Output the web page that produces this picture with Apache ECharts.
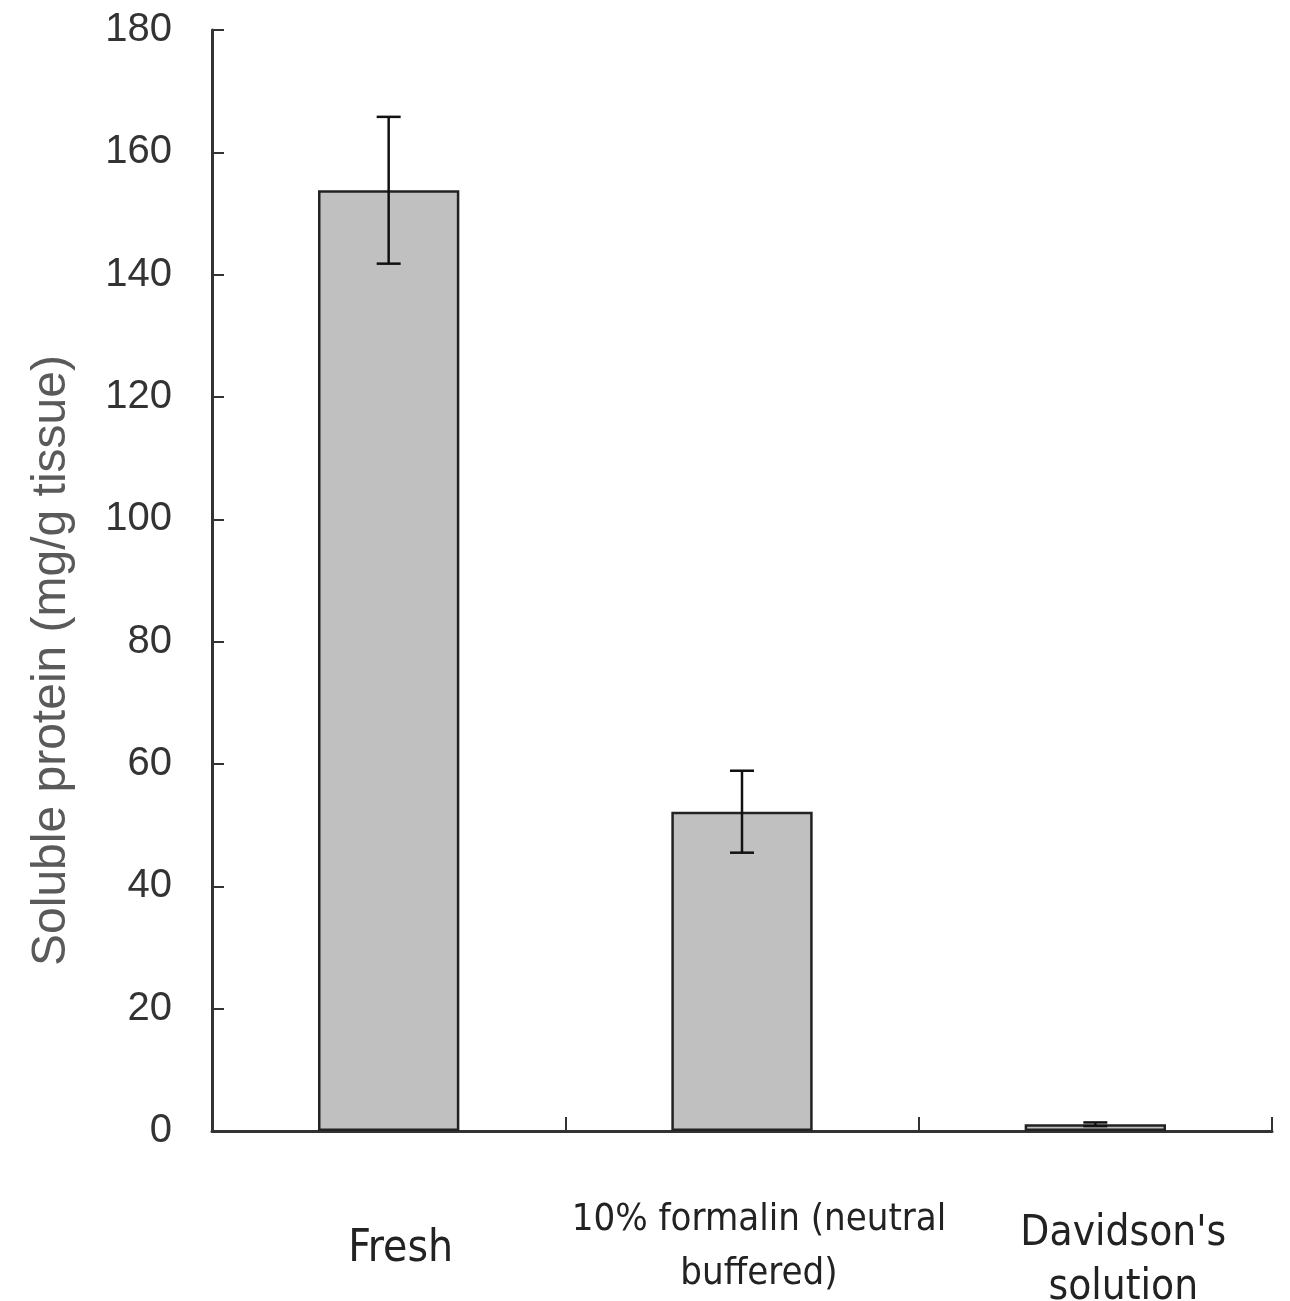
<!DOCTYPE html>
<html><head><meta charset="utf-8">
<script src="https://cdn.jsdelivr.net/npm/echarts@6/dist/echarts.min.js"></script>
<style>html,body{margin:0;padding:0;background:#fff}#c{width:1290px;height:1301px}</style>
</head><body><div id="c"></div>
<script>
const categories = ["Fresh", "10% formalin (neutral\nbuffered)", "Davidson's\nsolution"];
const means = [153.8, 52.2, 1.1];
const errors = [12.0, 6.7, 0.3];
const yTicks = [0, 20, 40, 60, 80, 100, 120, 140, 160, 180];

const chart = echarts.init(document.getElementById('c'));
const narrow = "'Liberation Sans Narrow','DejaVu Sans Condensed',sans-serif";
chart.setOption({
  animation: false,
  grid: {left: 212, right: 18, top: 30, bottom: 170, outerBoundsMode: 'none', containLabel: false},
  xAxis: {
    type: 'category',
    data: [
      {value: categories[0], textStyle: {fontSize: 44, padding: [30, 0, 0, 24]}},
      {value: categories[1], textStyle: {fontSize: 38, padding: [0, 0, 0, 34]}},
      {value: categories[2], textStyle: {fontSize: 42, padding: [14, 0, 0, 56]}}
    ],
    axisLine: {lineStyle: {color: '#333', width: 3}},
    axisTick: {show: true, inside: true, length: 14, lineStyle: {color: '#333', width: 2}},
    axisLabel: {margin: 62, color: '#222', fontFamily: narrow, lineHeight: 54, interval: 0}
  },
  yAxis: {
    type: 'value', min: yTicks[0], max: yTicks[yTicks.length - 1], interval: 20,
    name: 'Soluble protein (mg/g tissue)', nameLocation: 'middle', nameGap: 136,
    nameTextStyle: {fontSize: 48, color: '#5a5a5a', fontFamily: "'Liberation Sans',Arial,sans-serif", padding: [0, 160, 0, 0]},
    axisLine: {show: true, lineStyle: {color: '#333', width: 3}},
    axisTick: {show: true, inside: true, length: 12, lineStyle: {color: '#333', width: 2}},
    axisLabel: {fontSize: 40, color: '#333', margin: 40, fontFamily: "'Liberation Sans',Arial,sans-serif"},
    splitLine: {show: false}
  },
  series: [
    {
      type: 'bar', data: means, barWidth: '40%',
      itemStyle: {color: '#c0c0c0', borderColor: '#222', borderWidth: 2.5}
    },
    {
      type: 'custom',
      data: means.map((m, i) => [i, m - errors[i], m + errors[i]]),
      renderItem: function (params, api) {
        const x = api.value(0);
        const lo = api.coord([x, api.value(1)]);
        const hi = api.coord([x, api.value(2)]);
        const cap = 12;
        const st = {stroke: '#111', lineWidth: 2.5};
        return {type: 'group', children: [
          {type: 'line', shape: {x1: lo[0], y1: lo[1], x2: hi[0], y2: hi[1]}, style: st},
          {type: 'line', shape: {x1: hi[0] - cap, y1: hi[1], x2: hi[0] + cap, y2: hi[1]}, style: st},
          {type: 'line', shape: {x1: lo[0] - cap, y1: lo[1], x2: lo[0] + cap, y2: lo[1]}, style: st}
        ]};
      },
      z: 10
    }
  ]
});
</script></body></html>
